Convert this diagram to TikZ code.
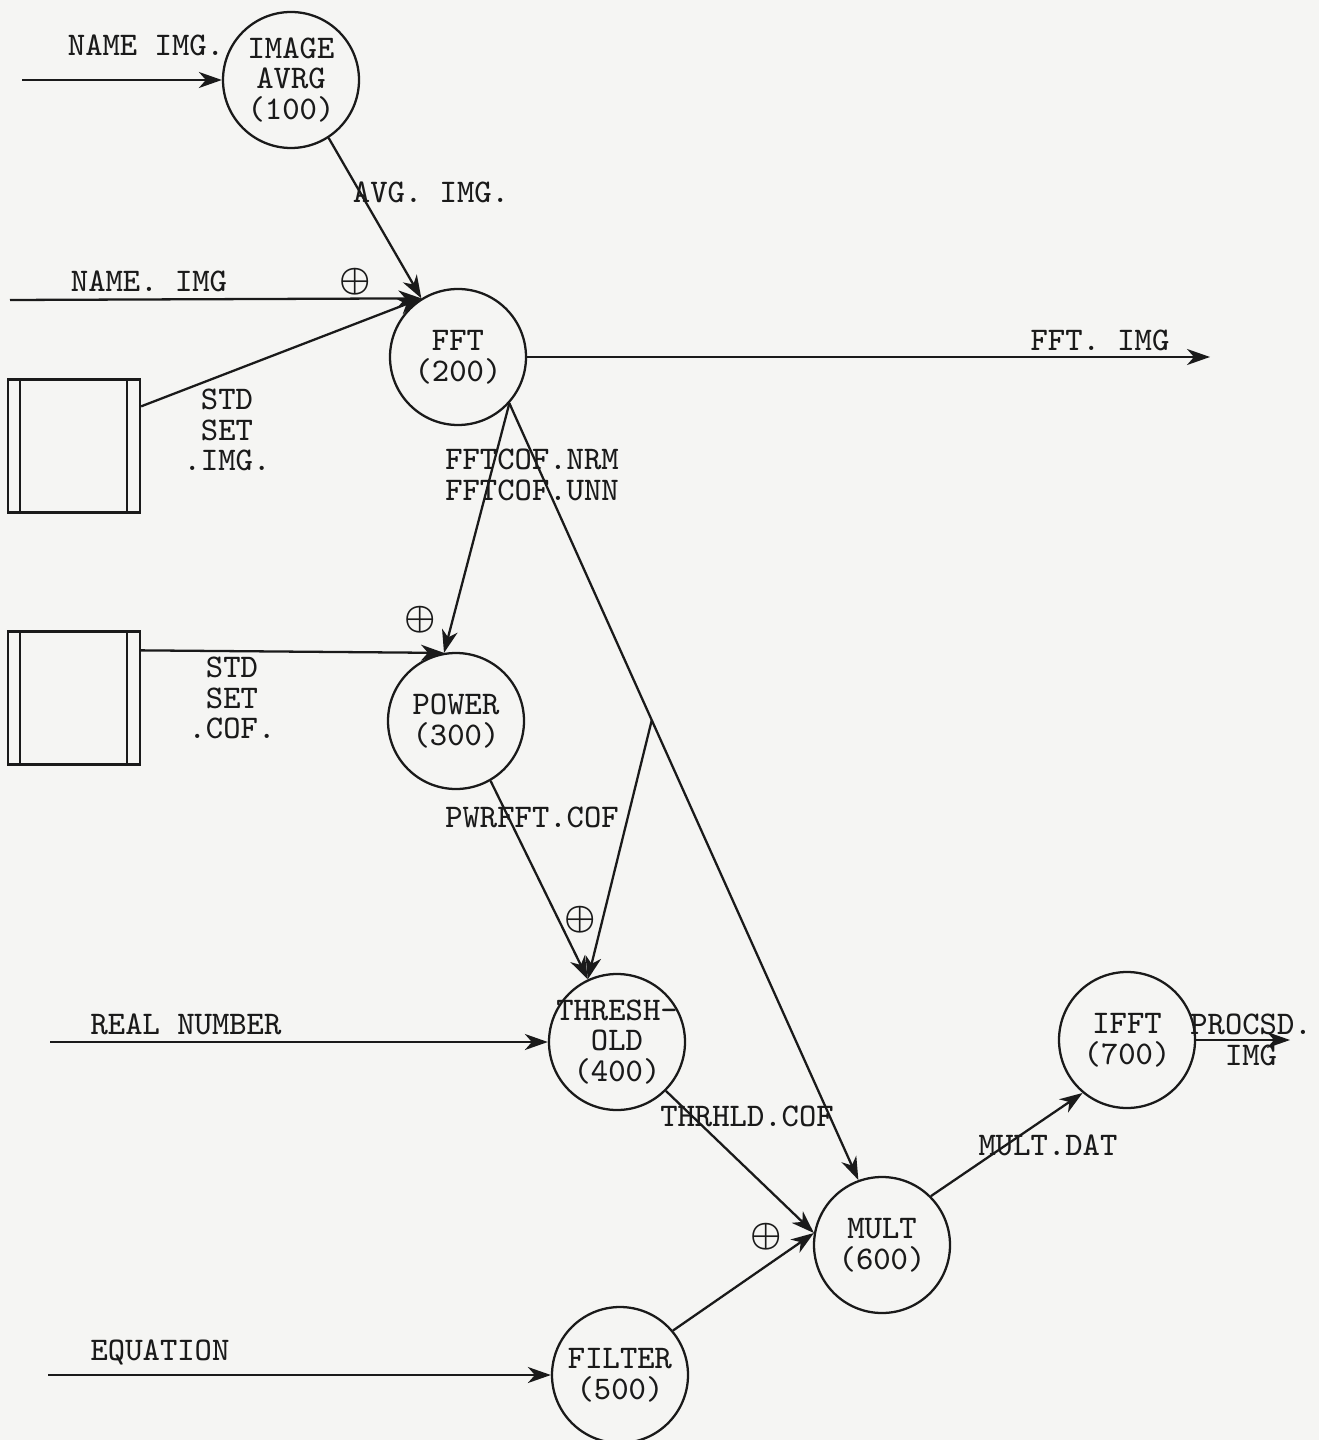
\documentclass[tikz,border=0pt]{standalone}
\usepackage{amsmath}
\usepackage{fontspec}
\usepackage{tikz}
\usetikzlibrary{arrows.meta, positioning, calc}
\definecolor{paper}{HTML}{F5F5F3}
\definecolor{ink}{HTML}{1A1A1A}

\begin{document}
\begin{tikzpicture}[
    x=0.1mm, y=-0.1mm,
    every node/.style={font=\ttfamily\fontsize{9.4}{8.7}\selectfont, text=ink},
    proc/.style={circle, draw=ink, line width=0.65pt, minimum size=13.6mm, inner sep=0pt, align=center},
    store/.style={rectangle, draw=ink, line width=0.65pt, minimum width=13.2mm, minimum height=13.3mm, inner sep=0pt,
        path picture={\draw[ink, line width=0.65pt]
            ([xshift=1.2mm]path picture bounding box.north west) -- ([xshift=1.2mm]path picture bounding box.south west)
            ([xshift=-1.3mm]path picture bounding box.north east) -- ([xshift=-1.3mm]path picture bounding box.south east);}},
    flow/.style={draw=ink, line width=0.65pt, -{Stealth[length=2.3mm, width=1.6mm, inset=0.7mm]}},
    lbl/.style={align=center, inner sep=0pt},
    plusmark/.style={inner sep=0pt, font=\fontsize{10}{10}\selectfont},
]
    \useasboundingbox (0,0) rectangle (1319,1440);
    \fill[paper] (0,0) rectangle (1319,1440);

    % processes
    \node[proc] (avrg) at (291,80) {IMAGE\\AVRG\\(100)};
    \node[proc] (fft) at (458,357) {FFT\\(200)};
    \node[proc] (power) at (456,721) {POWER\\(300)};
    \node[proc, label={[lbl]center:THRESH-\\OLD\\ (400)}] (thr) at (617,1042) {};
    \node[proc] (filter) at (620,1375) {FILTER\\(500)};
    \node[proc] (mult) at (882,1245) {MULT\\(600)};
    \node[proc] (ifft) at (1127,1040) {IFFT\\(700)};

    % data stores
    \node[store] (setimg) at (74,446) {};
    \node[store] (setcof) at (74,698) {};

    % free ends
    \coordinate (nmin) at (22,80);
    \coordinate (nmfft) at (10,300);
    \coordinate (fftout) at (1210,357);
    \coordinate (realin) at (50,1042);
    \coordinate (eqin) at (48,1375);
    \coordinate (procout) at (1290,1040);
    \coordinate (split) at ($(fft.-42)!0.408!(mult.110)$);

    % flows
    \draw[flow] (nmin) -- (avrg.west);
    \draw[flow] (avrg.-57) -- (fft.122);
    \draw[flow] (nmfft) -- (fft.122);
    \draw[flow] ([yshift=-2.8mm]setimg.north east) -- (fft.122);
    \draw[flow] (fft.east) -- (fftout);
    \draw[flow] (fft.-42) -- (power.100);
    \draw[flow] (fft.-42) -- (mult.110);
    \draw[flow] (split) -- (thr.115);
    \draw[flow] ([yshift=-2mm]setcof.north east) -- (power.100);
    \draw[flow] (power.-60) -- (thr.115);
    \draw[flow] (realin) -- (thr.west);
    \draw[flow] (thr.-45) -- (mult.170);
    \draw[flow] (eqin) -- (filter.west);
    \draw[flow] (filter.40) -- (mult.170);
    \draw[flow] (mult.45) -- (ifft.-130);
    \draw[flow] (ifft.east) -- (procout);

    % labels
    \node[lbl] (lnmin) at (146,45) {NAME IMG.};
    \node[lbl] (lavg) at (431,192) {AVG. IMG.};
    \node[lbl] (lnmfft) at (149,281) {NAME. IMG};
    \node[lbl] (lsetimg) at (227,430) {STD\\SET\\.IMG.};
    \node[lbl] (lfftout) at (1100,340) {FFT. IMG};
    \node[lbl] (lcof) at (532,475) {FFTCOF.NRM\\FFTCOF.UNN};
    \node[lbl] (lsetcof) at (232,698) {STD\\SET\\.COF.};
    \node[lbl] (lpwr) at (532,817) {PWRFFT.COF};
    \node[lbl] (lreal) at (186,1024) {REAL NUMBER};
    \node[lbl] (lthr) at (747,1116) {THRHLD.COF};
    \node[lbl] (leq) at (160,1352) {EQUATION};
    \node[lbl] (lmult) at (1048,1145) {MULT.DAT};
    \node[lbl] (lproc) at (1251,1040) {PROCSD.\\IMG};

    % joins
    \node[plusmark] (j1) at (355,282) {$\boldsymbol{\oplus}$};
    \node[plusmark] (j2) at (420,620) {$\boldsymbol{\oplus}$};
    \node[plusmark] (j3) at (580,920) {$\boldsymbol{\oplus}$};
    \node[plusmark] (j4) at (766,1237) {$\boldsymbol{\oplus}$};
\end{tikzpicture}
\end{document}
